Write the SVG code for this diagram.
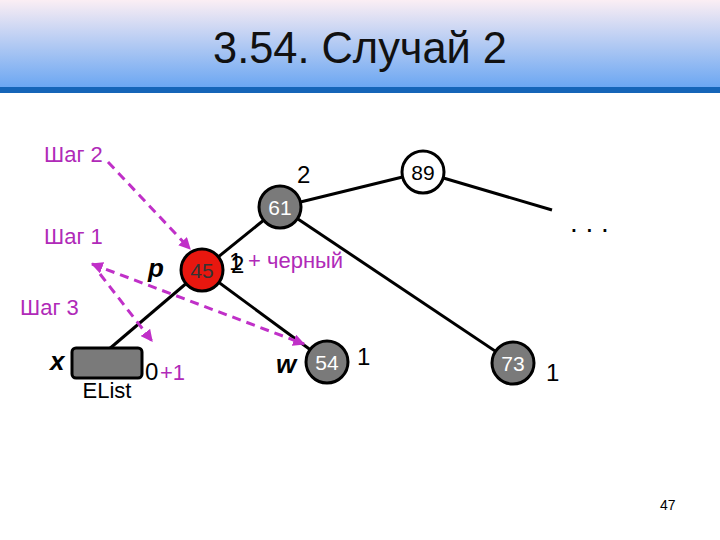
<svg xmlns="http://www.w3.org/2000/svg" width="720" height="540" viewBox="0 0 720 540">
<defs>
<linearGradient id="hg" x1="0" y1="0" x2="0" y2="1"><stop offset="0" stop-color="#fbeef4"/><stop offset="1" stop-color="#6aa6f2"/></linearGradient>
<marker id="ah" viewBox="0 0 10 10" refX="9" refY="5" markerWidth="4" markerHeight="4" orient="auto-start-reverse"><path d="M0,0L10,5L0,10z" fill="#c030c8"/></marker>
<style>
text{font-family:"Liberation Sans",Arial,sans-serif}
.e{stroke:#000;stroke-width:3;fill:none}
.d{stroke:#c030c8;stroke-width:3;fill:none;stroke-dasharray:9,6}
.g{fill:#7a7a7a;stroke:#000;stroke-width:3}
.w{fill:#fff;font-size:21px}
.m{fill:#b02ab8;font-size:22px}
.k{fill:#000;font-size:24px}
</style>
</defs>
<rect width="720" height="540" fill="#fff"/>
<rect width="720" height="88" fill="url(#hg)"/>
<rect y="87" width="720" height="6" fill="#1565b8"/>
<text x="360" y="63" font-size="44" text-anchor="middle" fill="#111" textLength="294" lengthAdjust="spacingAndGlyphs">3.54. Случай 2</text>
<g id="edges">
<line class="e" x1="280" y1="207" x2="202" y2="270"/>
<line class="e" x1="280" y1="207" x2="423" y2="172"/>
<line class="e" x1="423" y1="172" x2="552" y2="210"/>
<line class="e" x1="280" y1="207" x2="513" y2="363"/>
<line class="e" x1="202" y1="270" x2="327" y2="362"/>
<line class="e" x1="202" y1="270" x2="108" y2="350"/>
</g>
<g id="arrows">
<line class="d" x1="108" y1="162" x2="190" y2="249" marker-end="url(#ah)"/>
<line class="d" x1="92" y1="264" x2="304" y2="344" marker-start="url(#ah)" marker-end="url(#ah)"/>
<line class="d" x1="100" y1="274" x2="152" y2="341" marker-end="url(#ah)"/>
</g>
<g id="n61"><circle class="g" cx="280" cy="207" r="21"/><text class="w" x="280" y="215" text-anchor="middle">61</text></g>
<g id="n89"><circle cx="423" cy="172" r="21" fill="#fff" stroke="#000" stroke-width="3"/><text x="423" y="180" font-size="21" text-anchor="middle">89</text></g>
<g id="n45"><circle cx="202" cy="270" r="21" fill="#e8170f" stroke="#000" stroke-width="3"/><text x="202" y="278" font-size="21" text-anchor="middle" fill="#333">45</text></g>
<g id="n54"><circle class="g" cx="327" cy="362" r="21"/><text class="w" x="327" y="370" text-anchor="middle">54</text></g>
<g id="n73"><circle class="g" cx="513" cy="363" r="21"/><text class="w" x="513" y="371" text-anchor="middle">73</text></g>
<g id="elist"><rect x="72" y="348" width="70" height="30" rx="4" fill="#7a7a7a" stroke="#000" stroke-width="3"/><text x="107" y="398" font-size="22" text-anchor="middle">EList</text></g>
<g id="labels">
<text class="k" x="229" y="270">1</text><text class="k" x="231" y="273">2</text>
<text class="m" x="248" y="268">+ черный</text>
<text class="k" x="297" y="183">2</text>
<text class="k" x="145" y="380">0</text><text class="m" x="160" y="380" font-size="24">+1</text>
<text class="k" x="357" y="365">1</text>
<text class="k" x="546" y="381">1</text>
<text x="570" y="232" font-size="28">. . .</text>
<text x="148" y="277" font-size="26" font-weight="bold" font-style="italic">p</text>
<text x="50" y="370" font-size="26" font-weight="bold" font-style="italic">x</text>
<text x="276" y="373" font-size="26" font-weight="bold" font-style="italic">w</text>
<text class="m" x="44" y="162">Шаг 2</text>
<text class="m" x="44" y="244">Шаг 1</text>
<text class="m" x="20" y="315">Шаг 3</text>
<text x="660" y="510" font-size="14">47</text>
</g>
</svg>
